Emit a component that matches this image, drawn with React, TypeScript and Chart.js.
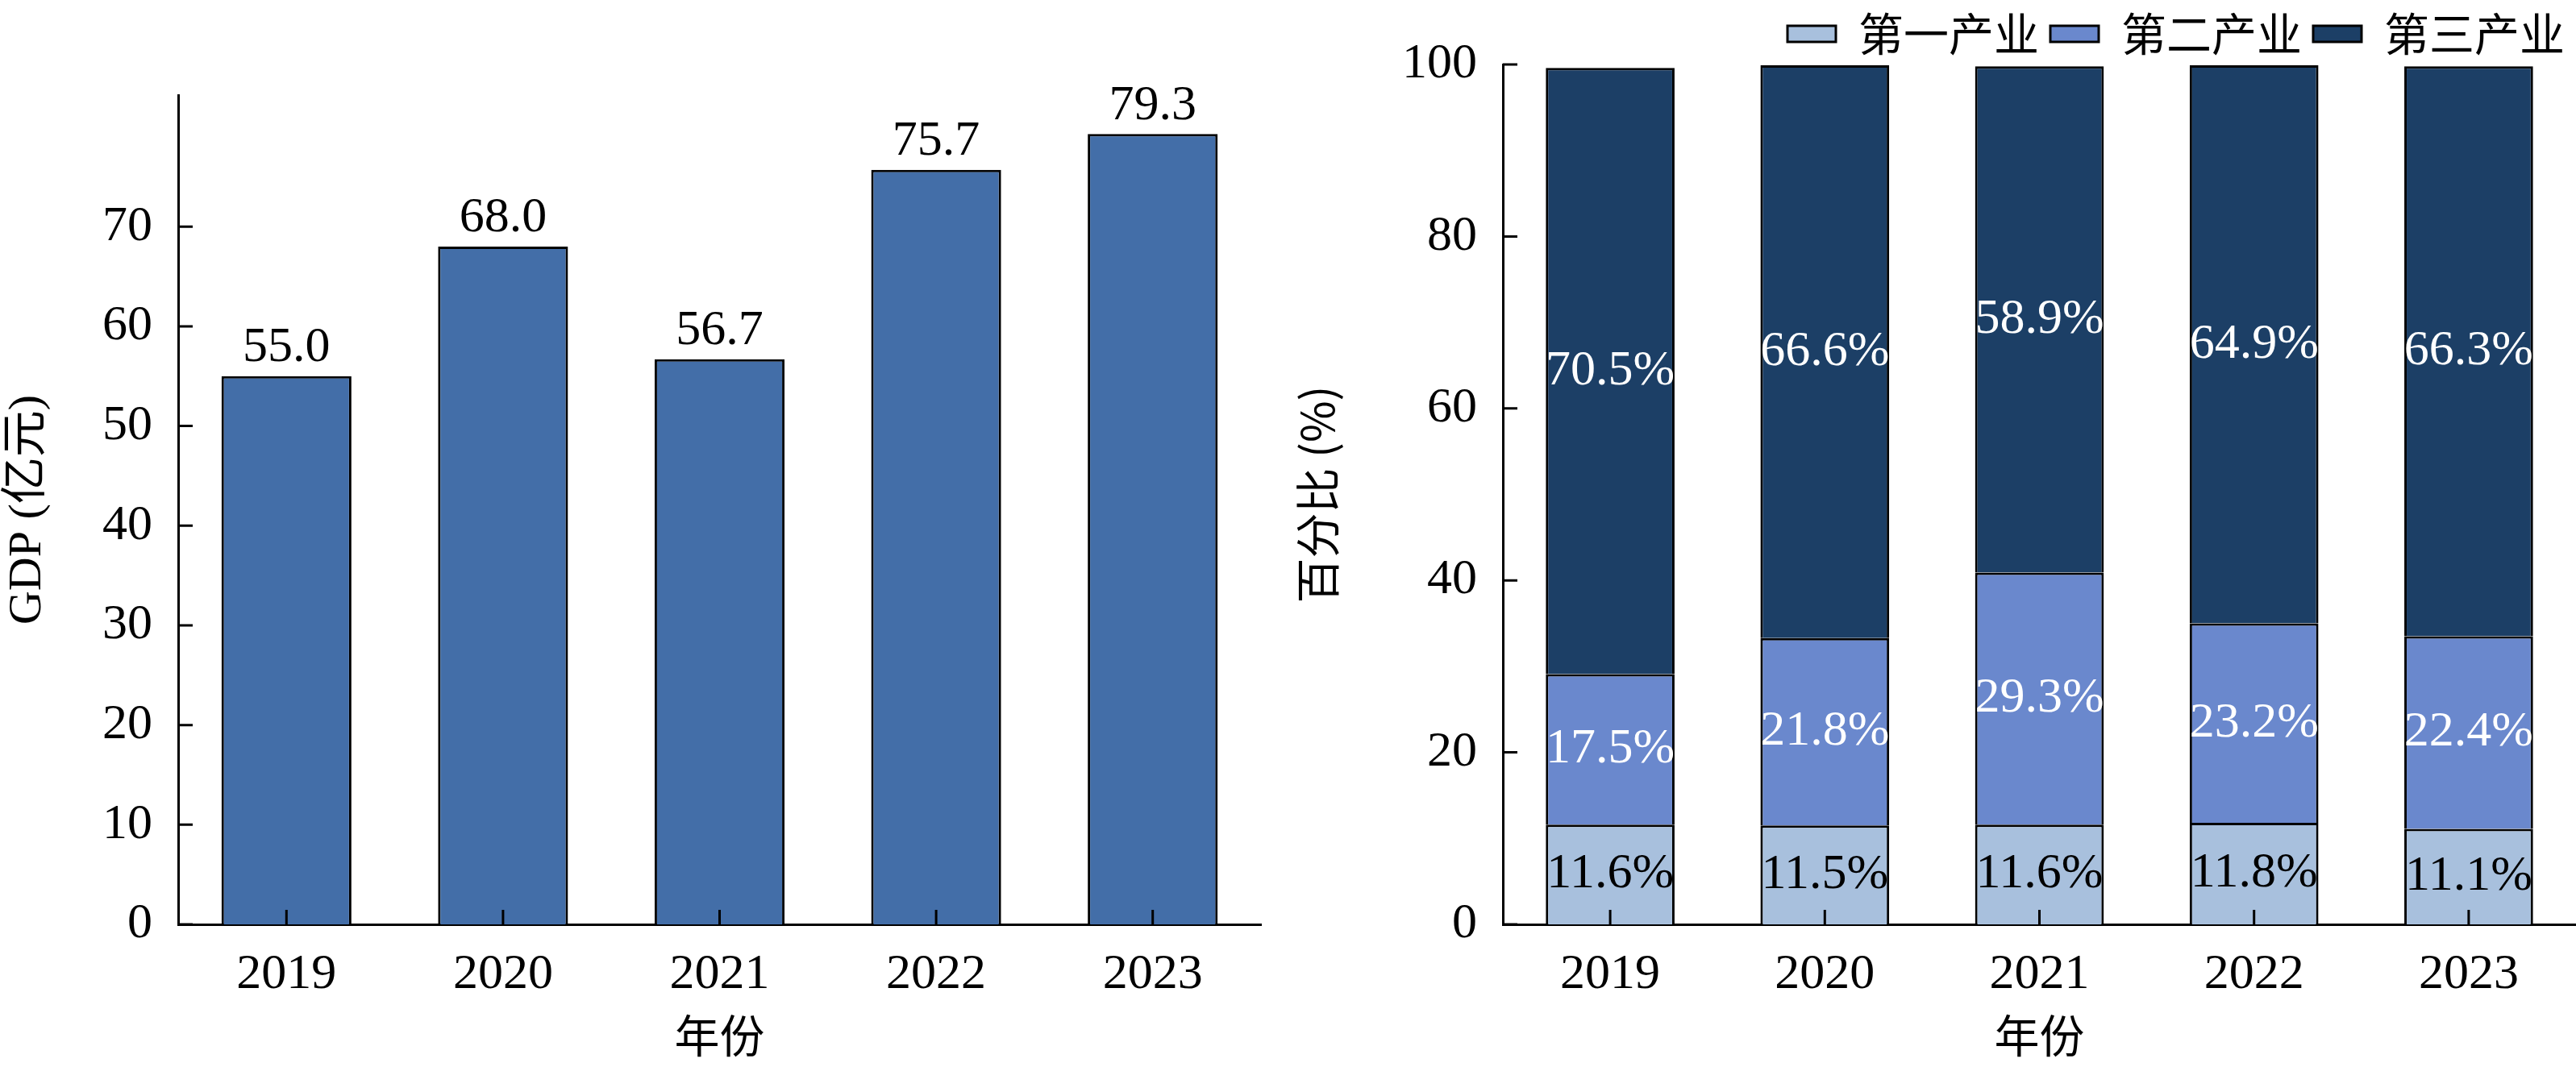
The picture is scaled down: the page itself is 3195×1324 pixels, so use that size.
import React, { useEffect, useRef } from "react";
import { Chart, registerables } from "chart.js";
Chart.register(...registerables);

const years = ["2019", "2020", "2021", "2022", "2023"];
const gdp = [55.0, 68.0, 56.7, 75.7, 79.3];
const primary = [11.6, 11.5, 11.6, 11.8, 11.1];
const secondary = [17.5, 21.8, 29.3, 23.2, 22.4];
const tertiary = [70.5, 66.6, 58.9, 64.9, 66.3];
const seriesNames = ["第一产业", "第二产业", "第三产业"];

const FONT = "'Liberation Serif', 'Noto Sans CJK SC', serif";
const CJK = "'Noto Sans CJK SC', 'Liberation Serif', sans-serif";

const innerTicks = {
  id: "innerTicks",
  afterDraw(chart: any) {
    const ctx = chart.ctx;
    const x = chart.scales.x, y = chart.scales.y;
    const a = chart.chartArea;
    ctx.save();
    ctx.strokeStyle = "#000";
    ctx.lineWidth = 3;
    ctx.beginPath();
    x.ticks.forEach((_: any, i: number) => {
      const px = x.getPixelForTick(i);
      ctx.moveTo(px, a.bottom);
      ctx.lineTo(px, a.bottom - 18);
    });
    y.ticks.forEach((_: any, i: number) => {
      const py = y.getPixelForTick(i);
      ctx.moveTo(a.left, py);
      ctx.lineTo(a.left + 18, py);
    });
    ctx.stroke();
    ctx.restore();
  },
};

const barLabels = {
  id: "barLabels",
  afterDatasetsDraw(chart: any) {
    const ctx = chart.ctx;
    const stacked = chart.options.plugins.barLabels?.stacked;
    ctx.save();
    ctx.font = `62px ${FONT}`;
    ctx.textAlign = "center";
    chart.data.datasets.forEach((ds: any, di: number) => {
      const meta = chart.getDatasetMeta(di);
      meta.data.forEach((el: any, i: number) => {
        const v = ds.data[i];
        if (stacked) {
          ctx.fillStyle = di === 0 ? "#000" : "#fff";
          ctx.textBaseline = "middle";
          ctx.fillText(v.toFixed(1) + "%", el.x, (el.y + el.base) / 2);
        } else {
          ctx.fillStyle = "#000";
          ctx.textBaseline = "bottom";
          ctx.fillText(v.toFixed(1), el.x, el.y - 4);
        }
      });
    });
    ctx.restore();
  },
};

function baseScales(yMax: number, yStep: number, yTitle: string, yWidth: number) {
  return {
    x: {
      grid: { display: false },
      border: { display: true, color: "#000", width: 3 },
      ticks: { color: "#000", font: { family: FONT, size: 62 }, padding: 18, maxRotation: 0 },
      title: { display: true, text: "年份", color: "#000", font: { family: CJK, size: 56 }, padding: { top: 0, bottom: 6 } },
      afterFit: (s: any) => { s.height = 177; },
    },
    y: {
      min: 0,
      max: yMax,
      grid: { display: false },
      border: { display: true, color: "#000", width: 3 },
      ticks: { color: "#000", font: { family: FONT, size: 62 }, stepSize: yStep, padding: 24 },
      afterBuildTicks: (s: any) => { s.ticks = s.ticks.filter((t: any) => Math.abs(t.value / yStep - Math.round(t.value / yStep)) < 1e-6); },
      title: { display: true, text: yTitle, color: "#000", font: { family: FONT, size: 58 }, padding: { top: 0, bottom: 0 } },
      afterFit: (s: any) => { s.width = yWidth; },
    },
  };
}

function LeftChart() {
  const ref = useRef<HTMLCanvasElement>(null);
  useEffect(() => {
    const c = new Chart(ref.current!, {
      type: "bar",
      data: {
        labels: years,
        datasets: [{ data: gdp, backgroundColor: "#436ea8", borderColor: "#000", borderWidth: 3, categoryPercentage: 1, barPercentage: 0.6 } as any],
      },
      options: {
        animation: false,
        responsive: false,
        layout: { padding: { top: 118, left: 0, right: 36, bottom: 0 } },
        plugins: { legend: { display: false }, tooltip: { enabled: false }, barLabels: { stacked: false } } as any,
        scales: baseScales(83.2, 10, "GDP (亿元)", 221) as any,
      },
      plugins: [innerTicks, barLabels],
    });
    return () => c.destroy();
  }, []);
  return <canvas ref={ref} width={1600} height={1324} style={{ position: "absolute", left: 0, top: 0, width: 1600, height: 1324 }} />;
}

function RightChart() {
  const ref = useRef<HTMLCanvasElement>(null);
  useEffect(() => {
    const mk = (label: string, data: number[], color: string) => ({
      label, data, backgroundColor: color, borderColor: "#000", borderWidth: 3, categoryPercentage: 1, barPercentage: 0.6,
    });
    const c = new Chart(ref.current!, {
      type: "bar",
      data: {
        labels: years,
        datasets: [
          mk(seriesNames[0], primary, "#a8c0dd"),
          mk(seriesNames[1], secondary, "#6a88cd"),
          mk(seriesNames[2], tertiary, "#1c3f66"),
        ] as any,
      },
      options: {
        animation: false,
        responsive: false,
        layout: { padding: { top: 0, left: 0, right: 0, bottom: 0 } },
        plugins: {
          tooltip: { enabled: false },
          barLabels: { stacked: true },
          legend: {
            position: "top",
            align: "end",
            labels: {
              color: "#000",
              font: { family: CJK, size: 56 },
              boxWidth: 60,
              boxHeight: 20,
              padding: 14,
              generateLabels: (chart: any) =>
                chart.data.datasets.map((d: any, i: number) => ({
                  text: d.label, fillStyle: d.backgroundColor, strokeStyle: "#000", lineWidth: 3, datasetIndex: i, hidden: false,
                })),
            },
          },
        } as any,
        scales: (() => {
          const s: any = baseScales(100, 20, "百分比 (%)", 264);
          s.x.stacked = true;
          s.y.stacked = true;
          s.y.title.font = { family: CJK, size: 56 };
          return s;
        })(),
      },
      plugins: [innerTicks, barLabels, {
        id: "legendFit",
        beforeInit(chart: any) {
          const orig = chart.legend;
        },
      }],
    });
    return () => c.destroy();
  }, []);
  return <canvas ref={ref} width={1595} height={1324} style={{ position: "absolute", left: 1600, top: 0, width: 1595, height: 1324 }} />;
}

export default function App() {
  return (
    <div style={{ position: "fixed", left: 0, top: 0, width: 3195, height: 1324, background: "#fff" }}>
      <LeftChart />
      <RightChart />
    </div>
  );
}
